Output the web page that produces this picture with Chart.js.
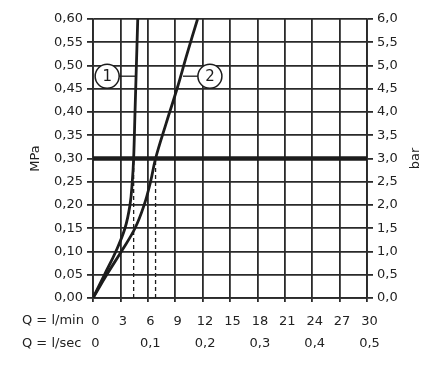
<!DOCTYPE html>
<html>
<head>
<meta charset="utf-8">
<script src="https://cdn.jsdelivr.net/npm/chart.js@4/dist/chart.umd.min.js"></script>
<style>
body { margin: 0; background: #fff; }
</style>
</head>
<body>
<canvas id="myChart" width="440" height="374"></canvas>
<script>
// kurver: Q i l/min, tryk i MPa
let curve1Q = [0, 1.25, 2.5, 3.5, 4.05, 4.3, 4.45, 4.6, 4.75, 4.9]
let curve1P = [0, 0.05, 0.10, 0.15, 0.20, 0.25, 0.30, 0.40, 0.50, 0.60]
let curve2Q = [0, 1.5, 3.1, 4.6, 5.6, 6.3, 6.85, 8.0, 9.2, 10.3, 11.45]
let curve2P = [0, 0.05, 0.10, 0.15, 0.20, 0.25, 0.30, 0.375, 0.45, 0.525, 0.60]

let workPressure = 0.30
let dropQ = [4.45, 6.85]

// nummer-cirkler og deres streger
let markLabels = ['1', '2']
let markQ = [1.55, 12.8]
let markP = [0.477, 0.477]
let leader1Q = [2.85, 4.75]
let leader2Q = [9.85, 11.5]

// akser
let pressureRange = [0, 0.6, 0.05]
let barRange = [0, 6, 0.5]
let minRange = [0, 30, 3]
let secRange = [0, 0.5, 0.1]

const ink = '#1c1c1c'
const font = { family: 'DejaVu Sans', size: 13 }

function pts(xs, ys) {
    return xs.map((x, i) => ({ x: x, y: ys[i] }))
}
function comma(v, d) {
    return v.toFixed(d).replace('.', ',')
}

let textPlugin = {
    id: 'texts',
    afterDatasetsDraw(chart) {
        let c = chart.ctx
        let meta = chart.getDatasetMeta(chart.data.datasets.length - 1)
        c.save()
        c.fillStyle = ink
        c.textAlign = 'center'
        c.textBaseline = 'middle'
        c.font = '15px "DejaVu Sans"'
        meta.data.forEach((el, i) => c.fillText(markLabels[i], el.x, el.y + 0.5))
        c.restore()
    },
    afterDraw(chart) {
        let c = chart.ctx
        let a = chart.chartArea
        let mid = (a.top + a.bottom) / 2
        c.save()
        c.fillStyle = '#222'
        c.font = '13px "DejaVu Sans"'
        c.textBaseline = 'middle'
        c.textAlign = 'left'
        c.fillText('Q = l/min', 22, 321)
        c.fillText('Q = l/sec', 22, 344)
        c.restore()
        // akse-titler, begge læses nedefra og op
        ;[['MPa', 36], ['bar', 416]].forEach(([t, x]) => {
            c.save()
            c.fillStyle = '#222'
            c.font = '13px "DejaVu Sans"'
            c.textBaseline = 'middle'
            c.textAlign = 'center'
            c.translate(x, mid)
            c.rotate(-Math.PI / 2)
            c.fillText(t, 0, 0)
            c.restore()
        })
    }
}

let lineBase = { pointRadius: 0, borderColor: ink, fill: false }

let ctx = document.getElementById('myChart').getContext('2d')
let myChart = new Chart(ctx, {
    type: 'line',
    data: {
        datasets: [
            Object.assign({ data: pts(curve1Q, curve1P), borderWidth: 2.8, tension: 0.4, order: 2 }, lineBase),
            Object.assign({ data: pts(curve2Q, curve2P), borderWidth: 2.8, tension: 0.4, order: 2 }, lineBase),
            Object.assign({ data: pts([minRange[0], minRange[1]], [workPressure, workPressure]), borderWidth: 4.5, order: 1 }, lineBase),
            Object.assign({ data: pts([dropQ[0], dropQ[0]], [0, workPressure]), borderWidth: 1.3, borderDash: [4, 3], order: 3 }, lineBase),
            Object.assign({ data: pts([dropQ[1], dropQ[1]], [0, workPressure]), borderWidth: 1.3, borderDash: [4, 3], order: 3 }, lineBase),
            Object.assign({ data: pts(leader1Q, [markP[0], markP[0]]), borderWidth: 1.3, order: 3 }, lineBase),
            Object.assign({ data: pts(leader2Q, [markP[1], markP[1]]), borderWidth: 1.3, order: 3 }, lineBase),
            {
                type: 'scatter',
                data: pts(markQ, markP),
                pointRadius: 12,
                pointBackgroundColor: '#fff',
                pointBorderColor: ink,
                pointBorderWidth: 1.5,
                order: 0
            }
        ]
    },
    options: {
        responsive: false,
        animation: false,
        events: [],
        layout: { padding: { top: 19, left: 0, right: 0, bottom: 0 } },
        plugins: { legend: { display: false }, tooltip: { enabled: false } },
        scales: {
            x: {
                type: 'linear', position: 'bottom', weight: 0,
                min: minRange[0], max: minRange[1],
                afterFit: (s) => { s.height = 34 },
                grid: { color: '#2a2a2a', lineWidth: 1.8, tickLength: 4 },
                border: { color: '#2a2a2a', width: 1.8 },
                ticks: { stepSize: minRange[2], autoSkip: false, maxRotation: 0, padding: 12, labelOffset: 2.5, color: '#222', font: font,
                    callback: (v) => String(v) }
            },
            x2: {
                type: 'linear', position: 'bottom', weight: 1,
                min: secRange[0], max: secRange[1],
                afterFit: (s) => { s.height = 42 },
                grid: { display: false, drawTicks: false, tickLength: 0 },
                border: { display: false },
                ticks: { stepSize: secRange[2], autoSkip: false, maxRotation: 0, padding: 4, labelOffset: 2.5, color: '#222', font: font,
                    callback: (v) => v === 0 ? '0' : comma(v, 1) }
            },
            y: {
                type: 'linear', position: 'left',
                min: pressureRange[0], max: pressureRange[1],
                afterFit: (s) => { s.width = 93 },
                grid: { color: '#2a2a2a', lineWidth: 1.8, tickLength: 6 },
                border: { color: '#2a2a2a', width: 1.8 },
                ticks: { stepSize: pressureRange[2], autoSkip: false, padding: 4, color: '#222', font: font,
                    callback: (v) => comma(v, 2) }
            },
            y2: {
                type: 'linear', position: 'right',
                min: barRange[0], max: barRange[1],
                afterFit: (s) => { s.width = 73 },
                grid: { drawOnChartArea: false, color: '#2a2a2a', lineWidth: 1.8, tickLength: 6 },
                border: { color: '#2a2a2a', width: 1.8 },
                ticks: { stepSize: barRange[2], autoSkip: false, padding: 4, color: '#222', font: font,
                    callback: (v) => comma(v, 1) }
            }
        }
    },
    plugins: [textPlugin]
})
</script>
</body>
</html>
